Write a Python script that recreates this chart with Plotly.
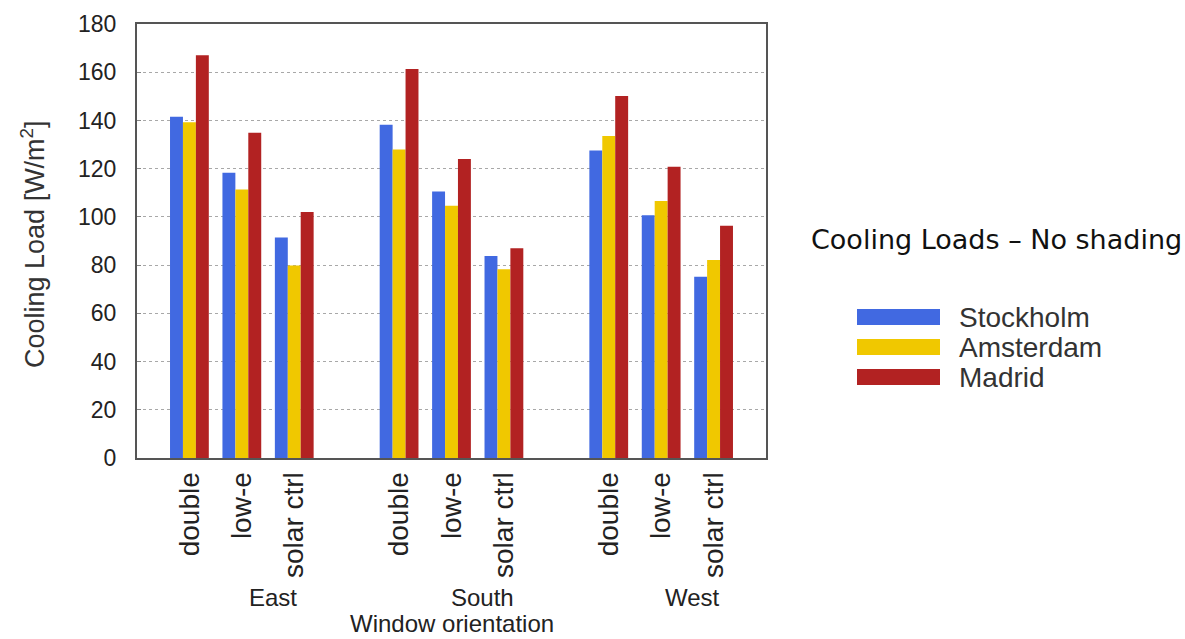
import plotly.graph_objects as go

# ---- data ----
orientations = ["East", "South", "West"]
windows = ["double", "low-e", "solar ctrl"]
cities = ["Stockholm", "Amsterdam", "Madrid"]
stockholm = [141.5, 118.3, 91.5, 138.2, 110.5, 83.8, 127.5, 100.7, 75.2]
amsterdam = [139.3, 111.4, 79.8, 128.0, 104.6, 78.3, 133.6, 106.6, 82.1]
madrid = [167.0, 134.9, 102.0, 161.3, 124.0, 87.0, 150.1, 120.8, 96.3]
colors = ["#4169E1", "#F0C800", "#B22222"]
y_ticks = [0, 20, 40, 60, 80, 100, 120, 140, 160, 180]

series = [stockholm, amsterdam, madrid]
slot = len(windows) + 1
xpos = [g * slot + w for g in range(len(orientations)) for w in range(len(windows))]
xtext = [w for _ in orientations for w in windows]

FONT = "Liberation Sans, Arial, Helvetica, sans-serif"

fig = go.Figure()
for name, vals, col in zip(cities, series, colors):
    fig.add_trace(go.Bar(x=xpos, y=vals, name=name, marker=dict(color=col, line=dict(width=0)),
                         showlegend=False))

W, H = 1185, 639
ml, mr, mt, mb = 137, 419, 24, 181
pw, ph = W - ml - mr, H - mt - mb

def px_x(p):
    return (p - ml) / pw

def px_y(p):
    return (H - mb - p) / ph

fig.update_layout(
    width=W, height=H,
    margin=dict(l=ml, r=mr, t=mt, b=mb, autoexpand=False),
    paper_bgcolor="white", plot_bgcolor="white",
    barmode="group", bargap=0.26, bargroupgap=0.0,
    font=dict(family=FONT, color="#222"),
    xaxis=dict(
        range=[-1, len(orientations) * slot - 1],
        tickmode="array", tickvals=xpos, ticktext=xtext,
        tickangle=-90, tickfont=dict(size=28, color="#222", family=FONT),
        ticks="", showgrid=False, zeroline=False,
        showline=True, linecolor="#555", linewidth=2, mirror=True,
        ticklabelstandoff=1,
    ),
    yaxis=dict(
        range=[0, 180], tickmode="array", tickvals=y_ticks,
        tickfont=dict(size=23, color="#222", family=FONT),
        ticks="inside", ticklen=4, tickcolor="#888",
        showgrid=True, gridcolor="#a8a8a8", griddash="dot", gridwidth=1,
        zeroline=False,
        showline=True, linecolor="#555", linewidth=2, mirror=True,
        ticklabelstandoff=14,
    ),
)

anns = []
# group labels
for g, o in enumerate(orientations):
    anns.append(dict(x=g * slot + 1.6, y=px_y(597), xref="x", yref="paper",
                     text=o, showarrow=False, xanchor="center", yanchor="middle",
                     font=dict(size=24, color="#222", family=FONT)))
# x axis title
anns.append(dict(x=0.5, y=px_y(623), xref="paper", yref="paper", text="Window orientation",
                 showarrow=False, xanchor="center", yanchor="middle",
                 font=dict(size=24, color="#222", family=FONT)))
# y axis title
anns.append(dict(x=px_x(33), y=px_y(244), xref="paper", yref="paper",
                 text="Cooling Load [W/m<sup>2</sup>]", textangle=-90,
                 showarrow=False, xanchor="center", yanchor="middle",
                 font=dict(size=27, color="#333", family=FONT)))
# chart title
anns.append(dict(x=px_x(996), y=px_y(240), xref="paper", yref="paper",
                 text="Cooling Loads \u2013 No shading",
                 showarrow=False, xanchor="center", yanchor="middle",
                 font=dict(size=27, color="#111", family="DejaVu Sans, Verdana, sans-serif")))

shapes = []
row_y = [317, 347, 377]
for name, col, ry in zip(cities, colors, row_y):
    shapes.append(dict(type="rect", xref="paper", yref="paper",
                       x0=px_x(857), x1=px_x(940), y0=px_y(ry + 8), y1=px_y(ry - 8),
                       fillcolor=col, line=dict(width=0)))
    anns.append(dict(x=px_x(957), y=px_y(ry), xref="paper", yref="paper", text=name,
                     showarrow=False, xanchor="left", yanchor="middle",
                     font=dict(size=28, color="#333", family=FONT)))

fig.update_layout(annotations=anns, shapes=shapes)
fig.write_html("out.html", config={"displayModeBar": False},
               post_script="document.body.style.margin='0';document.body.style.overflow='hidden';")
